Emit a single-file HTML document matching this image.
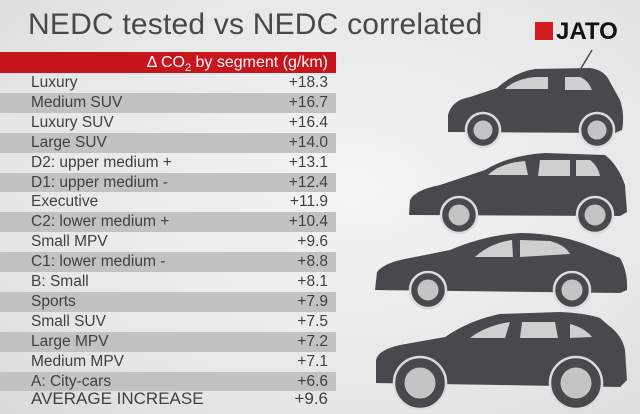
<!DOCTYPE html><html><head><style>
body{margin:0;width:640px;height:414px;overflow:hidden;background:radial-gradient(ellipse at 55% 45%,#f4f4f4 0%,#e6e6e6 70%,#d9d9d9 100%);font-family:"Liberation Sans",sans-serif;position:relative}
.t{position:absolute;left:28px;top:8px;font-size:30px;color:#47484a;letter-spacing:0.2px}
.hd{position:absolute;left:0;top:52px;width:336px;height:21px;background:#c8141c;color:#fff;font-size:16px;text-align:right;box-sizing:border-box;padding-right:8px;line-height:21px}
.r{position:absolute;left:0;width:336px;height:19.9px;font-size:15.5px;color:#3f4042;line-height:19.9px}
.r.g{background:#c2c2c2}
.r span{position:absolute;left:31px}.r b{font-weight:normal;position:absolute;right:8px}
.logo{position:absolute;left:535px;top:18px;font-weight:bold;font-size:24px;color:#111}
.logo i{display:inline-block;width:18px;height:18px;background:#d51c22;vertical-align:-1px;margin-right:3px}
</style></head><body>
<div class="t">NEDC tested vs NEDC correlated</div>
<div class="logo"><i></i>JATO</div>
<div class="hd">Δ CO<sub style="font-size:11px">2</sub> by segment (g/km)</div>
<div class="r" style="top:73px"><span>Luxury</span><b>+18.3</b></div>
<div class="r g" style="top:92.9px"><span>Medium SUV</span><b>+16.7</b></div>
<div class="r" style="top:112.8px"><span>Luxury SUV</span><b>+16.4</b></div>
<div class="r g" style="top:132.7px"><span>Large SUV</span><b>+14.0</b></div>
<div class="r" style="top:152.6px"><span>D2: upper medium +</span><b>+13.1</b></div>
<div class="r g" style="top:172.5px"><span>D1: upper medium -</span><b>+12.4</b></div>
<div class="r" style="top:192.4px"><span>Executive</span><b>+11.9</b></div>
<div class="r g" style="top:212.3px"><span>C2: lower medium +</span><b>+10.4</b></div>
<div class="r" style="top:232.2px"><span>Small MPV</span><b>+9.6</b></div>
<div class="r g" style="top:252.1px"><span>C1: lower medium -</span><b>+8.8</b></div>
<div class="r" style="top:272px"><span>B: Small</span><b>+8.1</b></div>
<div class="r g" style="top:291.9px"><span>Sports</span><b>+7.9</b></div>
<div class="r" style="top:311.8px"><span>Small SUV</span><b>+7.5</b></div>
<div class="r g" style="top:331.7px"><span>Large MPV</span><b>+7.2</b></div>
<div class="r" style="top:351.6px"><span>Medium MPV</span><b>+7.1</b></div>
<div class="r g" style="top:371.5px"><span>A: City-cars</span><b>+6.6</b></div>
<div class="r" style="top:389px;height:21px;font-size:17px"><span>AVERAGE INCREASE</span><b>+9.6</b></div>
<svg style="position:absolute;left:0;top:0" width="640" height="414">
<line x1="592" y1="50" x2="580" y2="70" stroke="#4a4b4f" stroke-width="1.5"/>
<g fill="#48494d">
<path d="M448,132 L448,115 Q452,100 470,97 L497,88 Q515,72 535,69 L590,68 Q605,70 610,82 L620,100 Q625,115 622,130 L615,133 Z"/>
<path d="M409,215 L410,200 Q415,190 440,185 L485,170 Q510,155 545,153 L605,155 Q618,165 625,185 L627,212 L620,216 Z"/>
<path d="M375,290 L377,272 Q385,262 410,258 L450,250 Q485,235 520,233 Q560,233 595,248 L620,258 Q628,272 627,290 L620,293 Z"/>
<path d="M376,383 L376,360 Q378,350 400,345 L445,337 Q470,320 500,314 L560,312 Q585,313 600,318 L608,325 Q622,335 625,350 L627,380 L620,387 Z"/>
</g>
<g fill="#cfcfcf">
<path d="M505,89 Q515,79 535,77 L548,77 L548,89 Z"/><path d="M565,77 L580,77 Q588,80 592,90 L565,90 Z"/>
<path d="M488,175 Q500,163 525,161 L528,175 Z"/><path d="M540,160 L570,160 L570,176 L538,176 Z"/><path d="M576,160 L590,160 Q598,166 600,176 L576,176 Z"/>
<path d="M475,257 Q490,243 512,240 L513,257 Z"/><path d="M520,240 L550,241 Q565,245 570,254 L520,257 Z"/>
<path d="M470,338 Q485,326 510,322 L505,338 Z"/><path d="M522,322 L555,322 L558,338 L520,338 Z"/><path d="M570,324 Q585,328 592,337 L570,338 Z"/>
</g>
<g fill="#48494d" stroke="#dcdcdc" stroke-width="2.5">
<circle cx="483" cy="130" r="17"/><circle cx="597" cy="130" r="17"/>
<circle cx="459" cy="215" r="18"/><circle cx="595" cy="215" r="18"/>
<circle cx="428" cy="290" r="18"/><circle cx="572" cy="290" r="18"/>
<circle cx="420" cy="383" r="26"/><circle cx="576" cy="383" r="26"/>
</g>
<g fill="#c4c4c4" stroke="#48494d" stroke-width="1">
<circle cx="483" cy="130" r="10"/><circle cx="597" cy="130" r="10"/>
<circle cx="459" cy="215" r="11"/><circle cx="595" cy="215" r="11"/>
<circle cx="428" cy="290" r="11"/><circle cx="572" cy="290" r="11"/>
<circle cx="420" cy="383" r="16"/><circle cx="576" cy="383" r="16"/>
</g>
</svg>
</body></html>
